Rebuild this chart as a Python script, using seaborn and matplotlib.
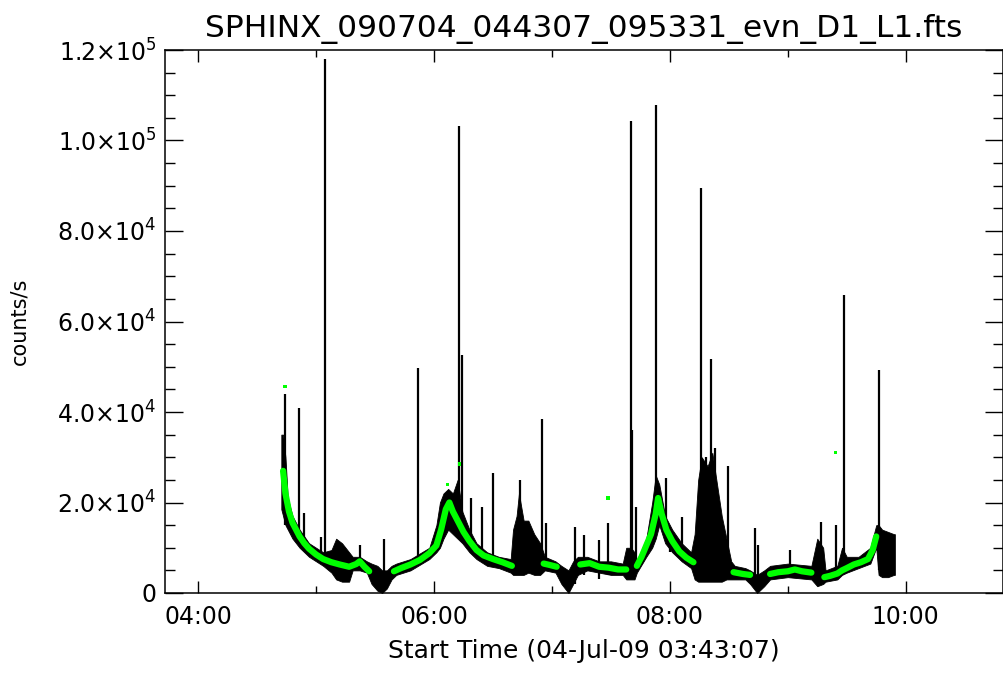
import numpy as np
import pandas as pd
import seaborn as sns
import matplotlib.pyplot as plt
from matplotlib.ticker import MultipleLocator, FuncFormatter

# time in decimal hours (UT), rates in counts/s

# green background curve (NaN = gap where only the black bursts are visible)
bg_time = [4.72, 4.74, 4.77, 4.80, 4.83, 4.86, 4.90, 4.94, 5.00, 5.06, 5.13, 5.20, 5.28, 5.34, 5.37, 5.41, 5.45, np.nan,
           5.66, 5.72, 5.80, 5.88, 5.96, 6.02, 6.06, 6.10, 6.13, 6.16, 6.20, 6.25, 6.30, 6.36, 6.42, 6.50, 6.58, 6.66, np.nan,
           6.93, 6.98, 7.04, np.nan,
           7.24, 7.32, 7.40, 7.48, 7.56, 7.63, np.nan,
           7.72, 7.76, 7.80, 7.84, 7.88, 7.90, 7.93, 7.97, 8.02, 8.08, 8.14, 8.20, np.nan,
           8.54, 8.62, 8.68, np.nan,
           8.85, 8.92, 9.00, 9.06, 9.12, 9.20, np.nan,
           9.31, 9.36, 9.42, 9.46, 9.50, 9.56, 9.62, 9.68, 9.72, 9.75]
bg_counts = [27000, 22000, 18000, 15500, 14000, 12500, 11000, 9800, 8500, 7500, 6800, 6300, 5800, 6400, 7000, 5800, 4800, np.nan,
             4800, 5500, 6300, 7300, 8800, 10500, 14000, 18500, 20000, 18000, 16000, 13500, 11500, 9500, 8300, 7500, 6800, 6000, np.nan,
             6500, 6200, 5800, np.nan,
             6300, 6600, 5800, 5600, 5200, 5200, np.nan,
             6000, 8000, 10500, 13000, 17500, 21000, 17500, 14000, 11500, 9200, 7800, 6800, np.nan,
             4600, 4200, 4000, np.nan,
             4200, 4600, 4800, 5200, 4800, 4500, np.nan,
             3500, 3800, 4300, 5000, 5500, 6300, 6800, 7500, 9500, 12500]

# black light curve: lower / upper envelope of the noisy band
band_time = [4.705, 4.72, 4.74, 4.76, 4.80, 4.86, 4.94, 5.00, 5.06, 5.13, 5.17, 5.22, 5.28, 5.31, 5.37, 5.43, 5.47,
             5.52, 5.56, 5.60, 5.64, 5.68, 5.80, 5.96, 6.02, 6.05, 6.08, 6.12, 6.16, 6.20, 6.24, 6.30, 6.36, 6.45,
             6.55, 6.65, 6.67, 6.70, 6.72, 6.76, 6.80, 6.85, 6.90, 6.94, 7.03, 7.08, 7.14, 7.18, 7.22, 7.30, 7.40,
             7.50, 7.60, 7.63, 7.67, 7.70, 7.72, 7.80, 7.85, 7.88, 7.91, 7.96, 8.02, 8.10, 8.18, 8.21, 8.24, 8.27,
             8.32, 8.36, 8.40, 8.44, 8.48, 8.52, 8.55, 8.64, 8.68, 8.74, 8.80, 8.85, 9.00, 9.20, 9.25, 9.30, 9.32,
             9.42, 9.46, 9.50, 9.60, 9.70, 9.75, 9.77, 9.80, 9.85, 9.90, 9.908]
band_low = [18500, 17000, 15000, 14000, 12000, 10000, 8000, 7000, 6000, 4500, 3000, 2500, 2500, 5000, 5000, 4500, 2000,
            500, 0, 1000, 3000, 4000, 5000, 7500, 9000, 10000, 12000, 14000, 13000, 12000, 11000, 9000, 7500, 6000,
            5500, 4500, 4000, 4000, 4000, 4000, 4500, 4000, 4000, 5000, 4500, 2000, 0, 2000, 4000, 5000, 4500,
            4000, 4000, 3000, 3000, 3000, 4500, 8000, 10000, 12000, 15000, 11000, 9000, 7000, 5500, 3000, 2500, 2500,
            2500, 2500, 2500, 2500, 3000, 3000, 3000, 3000, 2000, 0, 1500, 3000, 3500, 3000, 1500, 2000, 2500,
            3000, 4000, 4500, 5500, 6500, 10000, 4000, 3500, 3500, 4000, 4000]
band_high = [35000, 35000, 30000, 21000, 17000, 14000, 11000, 10000, 9000, 9500, 12000, 11000, 9000, 8000, 8000, 7000, 6500,
             6000, 5000, 5000, 6000, 6500, 7500, 10000, 15000, 20000, 22000, 23000, 22000, 25000, 18000, 14000, 11000, 9000,
             8000, 7500, 14000, 17000, 22000, 16000, 16000, 13000, 11000, 8000, 7000, 6000, 5000, 7000, 8000, 8000, 7000,
             7000, 6500, 10000, 10000, 9000, 7000, 12000, 20000, 26000, 24000, 17000, 14000, 11000, 9000, 13000, 25000, 30000,
             28000, 31000, 24000, 17000, 12000, 7000, 6000, 5500, 5000, 4000, 5000, 6000, 6500, 6000, 12000, 10000, 5000,
             6000, 10000, 8000, 8000, 10000, 15000, 15000, 14000, 13500, 13000, 13000]

# single spikes: time, top and foot of each vertical stroke
spike_time = [4.736, 4.857, 4.900, 5.044, 5.078, 5.370, 5.572, 5.868, 6.216, 6.233, 6.317, 6.411, 6.504, 6.731,
              6.912, 6.950, 7.192, 7.268, 7.396, 7.475, 7.667, 7.680, 7.709, 7.885, 7.964, 8.000, 8.100, 8.267,
              8.310, 8.346, 8.380, 8.491, 8.720, 8.745, 9.017, 9.280, 9.407, 9.478, 9.775]
spike_peak = [44000, 40900, 17700, 12400, 118000, 10600, 12000, 49700, 103200, 52600, 21000, 19000, 26500, 25000,
              38500, 15500, 14600, 12800, 11700, 15500, 104300, 36000, 19000, 107800, 25400, 14000, 16800, 89500,
              30000, 51700, 32000, 28000, 14400, 10600, 9500, 15700, 15000, 65900, 49300]
spike_base = [15000, 12000, 10000, 7000, 7000, 6000, 2000, 6000, 14000, 14000, 10000, 8000, 7000, 5000,
              5000, 6000, 2000, 4000, 3000, 4000, 4000, 4000, 5000, 15000, 12000, 9000, 7000, 3000,
              3000, 3000, 3000, 3000, 1000, 1000, 4000, 2000, 4000, 5000, 5000]

# stray green points
dot_time = [4.736, 6.115, 6.216, 7.475, 9.405]
dot_counts = [45700, 24000, 28500, 21000, 31000]

x_start = 3.0 + 43 / 60 + 7 / 3600   # 03:43:07
x_end = 10.825

sns.set_theme(style="ticks")
plt.rcParams.update({
    "font.family": ["DejaVu Sans"],
    "xtick.direction": "in", "ytick.direction": "in",
    "axes.linewidth": 1.1, "axes.edgecolor": "black",
    "xtick.color": "black", "ytick.color": "black",
    "text.color": "black", "axes.labelcolor": "black",
})

fig = plt.figure(figsize=(10.04, 6.73), dpi=100)
ax = fig.add_axes([165 / 1004, 80 / 673, 838 / 1004, 543 / 673])

green = "#00ff00"

# black band and spikes
ax.fill_between(band_time, band_low, band_high, color="black", lw=0.6, zorder=2)
ax.vlines(spike_time, spike_base, spike_peak, color="black", lw=1.6, zorder=2)

# green background, split at the gaps
bg = pd.DataFrame({"t": bg_time, "c": bg_counts})
bg["seg"] = bg["t"].isna().cumsum()
bg = bg.dropna()
sns.lineplot(data=bg, x="t", y="c", units="seg", estimator=None, sort=False,
             color=green, lw=4.5, ax=ax, legend=False, zorder=3)
sns.scatterplot(x=dot_time, y=dot_counts, color=green, s=6, marker="s", edgecolor="none", ax=ax, zorder=4)

ax.set_xlim(x_start, x_end)
ax.set_ylim(0, 120000)

ax.xaxis.set_major_locator(MultipleLocator(2))
ax.xaxis.set_minor_locator(MultipleLocator(1))
ax.yaxis.set_major_locator(MultipleLocator(20000))
ax.yaxis.set_minor_locator(MultipleLocator(5000))
ax.xaxis.set_major_formatter(FuncFormatter(lambda v, p: f"{int(round(v)):02d}:00"))


def yfmt(v, pos):
    if v <= 0:
        return "0"
    e = int(np.floor(np.log10(v)))
    return rf"{v / 10 ** e:.1f}$\times$10$^{{{e}}}$"


ax.yaxis.set_major_formatter(FuncFormatter(yfmt))

ax.tick_params(axis="x", which="major", length=8.6, width=1.0, top=True, labelsize=17, pad=9)
ax.tick_params(axis="x", which="minor", length=5, width=1.0, top=True)
ax.tick_params(axis="y", which="major", length=13, width=1.0, right=True, labelsize=17, pad=6)
ax.tick_params(axis="y", which="minor", length=7.2, width=1.0, right=True)

ax.set_xlabel("Start Time (04-Jul-09 03:43:07)", fontsize=18, labelpad=7)
ax.set_ylabel("counts/s", fontsize=15, labelpad=20)
ax.set_title("SPHINX_090704_044307_095331_evn_D1_L1.fts", fontsize=22.5, pad=9)

fig.savefig("out.png", dpi=100, facecolor="white")
